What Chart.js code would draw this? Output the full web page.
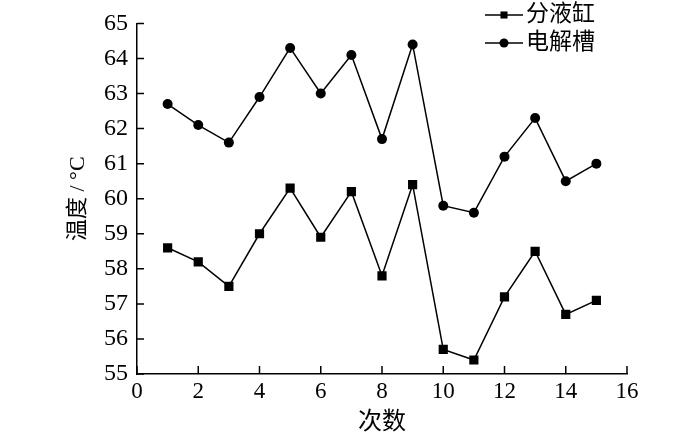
<!DOCTYPE html>
<html>
<head>
<meta charset="utf-8">
<script src="https://cdn.jsdelivr.net/npm/chart.js@4"></script>
<style>
  html, body { margin: 0; padding: 0; background: #fff; }
  #wrap { width: 700px; height: 437px; }
</style>
</head>
<body>
<div id="wrap"><canvas id="tempChart"></canvas></div>
<script>
// Data
const runs = [1, 2, 3, 4, 5, 6, 7, 8, 9, 10, 11, 12, 13, 14, 15];
const separatorTemp = [58.6, 58.2, 57.5, 59.0, 60.3, 58.9, 60.2, 57.8, 60.4, 55.7, 55.4, 57.2, 58.5, 56.7, 57.1];
const cellTemp = [62.7, 62.1, 61.6, 62.9, 64.3, 63.0, 64.1, 61.7, 64.4, 59.8, 59.6, 61.2, 62.3, 60.5, 61.0];
const seriesNames = ['分液缸', '电解槽'];
const xTicks = [0, 2, 4, 6, 8, 10, 12, 14, 16];
const yTicks = [55, 56, 57, 58, 59, 60, 61, 62, 63, 64, 65];

const serif = "'Liberation Serif', 'Noto Sans CJK SC', serif";
const cjk = "'Liberation Serif', 'Noto Sans CJK SC', sans-serif";

// Inward tick marks on the left and bottom axes
const inwardTicks = {
    id: 'inwardTicks',
    afterDatasetsDraw(chart) {
        const ctx = chart.ctx;
        const xs = chart.scales.x, ys = chart.scales.y;
        ctx.save();
        ctx.strokeStyle = '#000';
        ctx.lineWidth = 1.5;
        ctx.beginPath();
        xTicks.forEach(v => {
            const px = xs.getPixelForValue(v);
            ctx.moveTo(px, ys.bottom);
            ctx.lineTo(px, ys.bottom - 8);
        });
        yTicks.forEach(v => {
            const py = ys.getPixelForValue(v);
            ctx.moveTo(xs.left, py);
            ctx.lineTo(xs.left + 7, py);
        });
        ctx.stroke();
        ctx.restore();
    }
};

// Legend: short line with marker, then the label
const lineLegend = {
    id: 'lineLegend',
    afterDraw(chart) {
        const ctx = chart.ctx;
        ctx.save();
        chart.data.datasets.forEach((ds, i) => {
            const y = 15 + i * 28;
            ctx.strokeStyle = '#000';
            ctx.lineWidth = 1.5;
            ctx.beginPath();
            ctx.moveTo(485, y);
            ctx.lineTo(523, y);
            ctx.stroke();
            ctx.fillStyle = '#000';
            Chart.helpers.drawPoint(ctx, { pointStyle: ds.pointStyle, radius: ds.pointStyle === 'rect' ? 5 : 4.5, borderWidth: 0 }, 504, y);
            ctx.font = '23px ' + cjk;
            ctx.textBaseline = 'middle';
            ctx.textAlign = 'left';
            ctx.fillText(ds.label, 526, y);
        });
        ctx.restore();
    }
};

const ctx = document.getElementById('tempChart').getContext('2d');
const tempChart = new Chart(ctx, {
    type: 'line',
    data: {
        datasets: [{
            label: seriesNames[0],
            data: runs.map((r, i) => ({ x: r, y: separatorTemp[i] })),
            borderColor: '#000',
            backgroundColor: '#000',
            borderWidth: 1.5,
            pointStyle: 'rect',
            pointRadius: 6.5,
            pointBorderWidth: 0,
            tension: 0
        }, {
            label: seriesNames[1],
            data: runs.map((r, i) => ({ x: r, y: cellTemp[i] })),
            borderColor: '#000',
            backgroundColor: '#000',
            borderWidth: 1.5,
            pointStyle: 'circle',
            pointRadius: 5,
            pointBorderWidth: 0,
            tension: 0
        }]
    },
    options: {
        responsive: true,
        maintainAspectRatio: false,
        animation: false,
        layout: { padding: { left: 0, top: 19, right: 73, bottom: 0 } },
        plugins: {
            legend: { display: false },
            tooltip: { enabled: false }
        },
        scales: {
            x: {
                type: 'linear',
                min: 0,
                max: 16,
                afterBuildTicks: scale => { scale.ticks = xTicks.map(v => ({ value: v })); },
                afterFit: scale => { scale.height = 63; },
                grid: { display: false, drawTicks: false },
                border: { display: true, color: '#000', width: 1.5 },
                ticks: {
                    color: '#000',
                    padding: 4,
                    maxRotation: 0,
                    font: { family: serif, size: 23 }
                },
                title: {
                    display: true,
                    text: '次数',
                    color: '#000',
                    padding: { top: 0, bottom: 0 },
                    font: { family: cjk, size: 24 }
                }
            },
            y: {
                type: 'linear',
                min: 55,
                max: 65,
                afterBuildTicks: scale => { scale.ticks = yTicks.map(v => ({ value: v })); },
                afterFit: scale => { scale.width = 137; },
                grid: { display: false, drawTicks: false },
                border: { display: true, color: '#000', width: 1.5 },
                ticks: {
                    color: '#000',
                    padding: 9,
                    font: { family: serif, size: 24 }
                },
                title: {
                    display: true,
                    text: '温度 / °C',
                    color: '#000',
                    padding: { top: 65, bottom: 0 },
                    font: { family: cjk, size: 22 }
                }
            }
        }
    },
    plugins: [inwardTicks, lineLegend]
});
</script>
</body>
</html>
